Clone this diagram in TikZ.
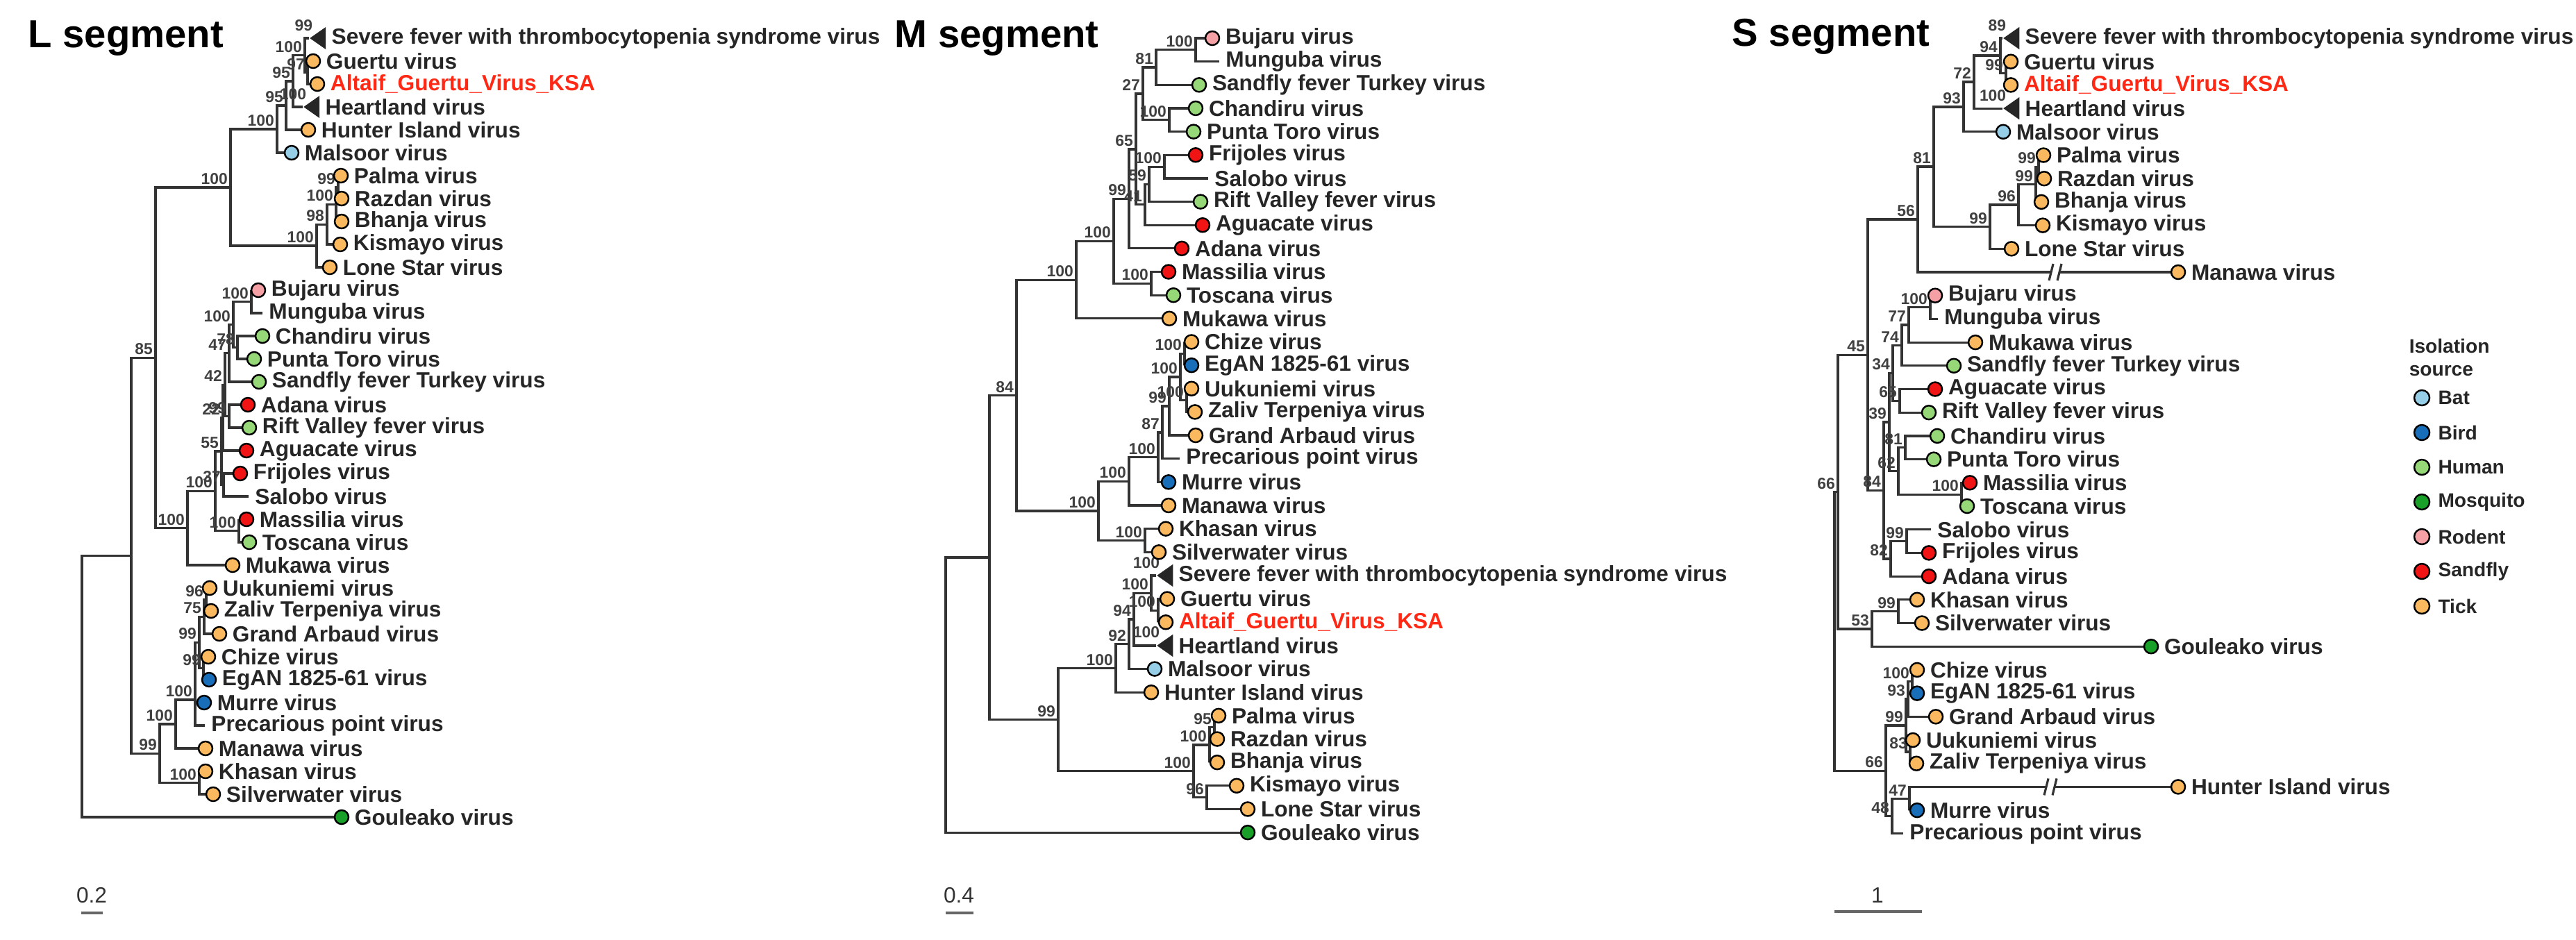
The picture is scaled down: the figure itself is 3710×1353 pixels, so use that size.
\documentclass[tikz,border=0pt]{standalone}
\usepackage{fontspec}
\setmainfont{Liberation Sans}
\usetikzlibrary{shapes.geometric,backgrounds}

\definecolor{batc}{RGB}{150,206,232}
\definecolor{birdc}{RGB}{25,110,185}
\definecolor{humanc}{RGB}{150,215,120}
\definecolor{mosqc}{RGB}{25,160,40}
\definecolor{rodentc}{RGB}{245,160,165}
\definecolor{sandflyc}{RGB}{240,20,20}
\definecolor{tickc}{RGB}{250,185,95}
\definecolor{ksac}{RGB}{255,40,20}

\tikzset{
  mk/.style={circle, draw=black, line width=0.7pt, minimum size=0.2cm, inner sep=0pt},
  Bat/.style={mk, fill=batc},
  Bird/.style={mk, fill=birdc},
  Human/.style={mk, fill=humanc},
  Mosquito/.style={mk, fill=mosqc},
  Rodent/.style={mk, fill=rodentc},
  Sandfly/.style={mk, fill=sandflyc},
  Tick/.style={mk, fill=tickc},
  Bare/.style={inner sep=0pt, minimum size=0pt, label distance=3.5pt},
  Tri/.style={isosceles triangle, shape border rotate=180, isosceles triangle apex angle=70,
    minimum size=0.23cm, inner sep=0pt, fill=black!85, anchor=apex},
  lab/.style={font=\fontsize{9}{10}\selectfont\bfseries, text=black!85, inner sep=2pt},
  ksa/.style={lab, text=ksac},
  bs/.style={font=\fontsize{6.5}{7}\selectfont\bfseries, text=black!75, inner sep=1pt},
  branch/.style={draw=black!80, line width=0.9pt},
  title/.style={font=\fontsize{16}{18}\selectfont\bfseries, anchor=base west, inner sep=0pt},
  sc/.style={font=\fontsize{9}{10}\selectfont, text=black!80, inner sep=0pt},
  scalebar/.style={draw=black!60, line width=1.2pt},
  leg/.style={font=\fontsize{8}{9.5}\selectfont\bfseries, text=black!85, inner sep=3pt},
}

% broken branch mark
\newcommand\gapmark[2]{%
  \fill[white] (#1-5,#2-7) rectangle (#1+5,#2+7);
  \draw[branch] (#1-9,#2+12) -- (#1-3,#2-12) (#1+3,#2+12) -- (#1+9,#2-12);}

\begin{document}
\begin{tikzpicture}[x=0.01cm, y=-0.01cm]
\useasboundingbox (0,0) rectangle (3710,1353);

%%%%%%%%%%%%%%%% L segment
\node[title] (Ltitle) at (40,68) {L segment};

% inner nodes
\foreach \n/\cx/\cy/\bv in {LN7/443/104.5/97, LN6/439/79.8/100, LN5/422/116.9/95,
  LN4/412/152/95, LN2/399/186/100, LP4/487/269.5/99, LP3/484/294.3/100,
  LP2/471/323.1/98, LP1/456/354/100, LN1/332/270/100, LBM/362/434.5/100,
  LCP/342/500.5/78, LQ1/336/467.5/100, LQ2/330/508.8/47, LAR/330/599.5/99,
  LQ3/324/554.1/42, LQ4/321/601.6/22, LFS/322/698.5/37, LF/319/650/55,
  LG/344/764.5/100, LE/310/707.3/100, LD/270/760.6/100, LB/224/515.3/85,
  LUZ/297/863.5/96, LUZG/294/888.3/75, LCE/293/962.5/99, LH2/287/925.4/99,
  LF2/281/1008/100, LD2/253/1043/100, LKS/287/1127.5/100, LC/230/1085.3/99}
  \coordinate[label={[bs]above left:\bv}] (\n) at (\cx,\cy);
\coordinate (LA) at (189,800.3);
\coordinate (Lroot) at (118,988.6);

% tips
\node[Tri, label={[lab]right:Severe fever with thrombocytopenia syndrome virus}, label={[bs]above left:99}] (L0) at (445,55) {};
\node[Tri, label={[lab]right:Heartland virus}, label={[bs]above left:100}] (L3) at (436,154) {};
\foreach \i/\cx/\st/\nm/\lb in {1/451/Tick/Guertu virus/lab, 2/457/Tick/Altaif\_Guertu\_Virus\_KSA/ksa,
  4/444/Tick/Hunter Island virus/lab, 5/420/Bat/Malsoor virus/lab, 6/491/Tick/Palma virus/lab,
  7/492/Tick/Razdan virus/lab, 8/492/Tick/Bhanja virus/lab, 9/490/Tick/Kismayo virus/lab,
  10/475/Tick/Lone Star virus/lab, 11/372/Rodent/Bujaru virus/lab, 12/379/Bare/Munguba virus/lab,
  13/378/Human/Chandiru virus/lab, 14/366/Human/Punta Toro virus/lab,
  15/373/Human/Sandfly fever Turkey virus/lab, 16/357/Sandfly/Adana virus/lab,
  17/359/Human/Rift Valley fever virus/lab, 18/355/Sandfly/Aguacate virus/lab,
  19/346/Sandfly/Frijoles virus/lab, 20/359/Bare/Salobo virus/lab, 21/355/Sandfly/Massilia virus/lab,
  22/359/Human/Toscana virus/lab, 23/335/Tick/Mukawa virus/lab, 24/302/Tick/Uukuniemi virus/lab,
  25/304/Tick/Zaliv Terpeniya virus/lab, 26/316/Tick/Grand Arbaud virus/lab, 27/300/Tick/Chize virus/lab,
  28/301/Bird/EgAN 1825-61 virus/lab, 29/294/Bird/Murre virus/lab, 30/296/Bare/Precarious point virus/lab,
  31/296/Tick/Manawa virus/lab, 32/296/Tick/Khasan virus/lab, 33/307/Tick/Silverwater virus/lab,
  34/492/Mosquito/Gouleako virus/lab}
  \node[\st, label={[\lb]right:\nm}] (L\i) at (\cx,{55+33*\i}) {};

\begin{pgfonlayer}{background}
\foreach \p/\ks in {LN7/{L1,L2}, LN6/{L0,LN7}, LN5/{LN6,L3}, LN4/{LN5,L4}, LN2/{LN4,L5},
  LP4/{L6,L7}, LP3/{LP4,L8}, LP2/{LP3,L9}, LP1/{LP2,L10}, LN1/{LN2,LP1},
  LBM/{L11,L12}, LCP/{L13,L14}, LQ1/{LBM,LCP}, LQ2/{LQ1,L15}, LAR/{L16,L17},
  LQ3/{LQ2,LAR}, LQ4/{LQ3,L18}, LFS/{L19,L20}, LF/{LQ4,LFS}, LG/{L21,L22},
  LE/{LF,LG}, LD/{LE,L23}, LB/{LN1,LD}, LUZ/{L24,L25}, LUZG/{LUZ,L26},
  LCE/{L27,L28}, LH2/{LUZG,LCE}, LF2/{LH2,L29,L30}, LD2/{LF2,L31}, LKS/{L32,L33},
  LC/{LD2,LKS}, LA/{LB,LC}, Lroot/{LA,L34}}
  \foreach \c in \ks \draw[branch] (\p) |- (\c);
\end{pgfonlayer}

\node[sc] (Lscale) at (132,1290) {0.2};
\coordinate (Lbar1) at (117,1315);
\coordinate (Lbar2) at (148,1315);
\draw[scalebar] (Lbar1) -- (Lbar2);

%%%%%%%%%%%%%%%% M segment
\node[title] (Mtitle) at (1288,68) {M segment};

\foreach \n/\cx/\cy/\bv in {MBM/1722/71.8/100, MBMS/1665/97/81, MCP/1684/172.8/100,
  MBMSC/1646/134.9/27, MFS/1677/240.1/100, MFSR/1655/265.3/59, MFSRA/1649/294.8/41,
  MH/1636/214.9/65, MG/1626/286.4/99, MS/1658/408.3/100, MF/1604/347.4/100,
  MD/1550/403.1/100, MQ/1706/509.3/100, MUZ/1709/576.6/100, MP/1700/543/100,
  MO/1684/585/99, MN/1674/622.9/87, MJ/1668/658.6/100, MI/1626/693.3/100,
  MK/1649/778.5/100, ME/1582/735.9/100, MB/1464/569.5/84, MGA/1668/879.4/100,
  MZ/1658/854.2/100, MY/1633/892/94, MX/1626/927.8/92, MR/1607/962.5/100,
  MW/1749/1047.7/95, MU/1742/1072.9/100, MV/1738/1148.6/96, MT/1719/1110.8/100,
  MC/1524/1036.6/99}
  \coordinate[label={[bs]above left:\bv}] (\n) at (\cx,\cy);
\coordinate (MA) at (1425,803);
\coordinate (Mroot) at (1362,1001);

\node[Tri, label={[lab]right:Severe fever with thrombocytopenia syndrome virus}, label={[bs]above left:100}] (M23) at (1665,828.95) {};
\node[Tri, label={[lab]right:Heartland virus}, label={[bs]above left:100}] (M26) at (1665,929.9) {};
\foreach \i/\cx/\st/\nm/\lb in {0/1746/Rodent/Bujaru virus/lab, 1/1757/Bare/Munguba virus/lab,
  2/1727/Human/Sandfly fever Turkey virus/lab, 3/1722/Human/Chandiru virus/lab,
  4/1719/Human/Punta Toro virus/lab, 5/1722/Sandfly/Frijoles virus/lab, 6/1741/Bare/Salobo virus/lab,
  7/1729/Human/Rift Valley fever virus/lab, 8/1732/Sandfly/Aguacate virus/lab,
  9/1702/Sandfly/Adana virus/lab, 10/1683/Sandfly/Massilia virus/lab, 11/1690/Human/Toscana virus/lab,
  12/1684/Tick/Mukawa virus/lab, 13/1716/Tick/Chize virus/lab, 14/1716/Bird/EgAN 1825-61 virus/lab,
  15/1716/Tick/Uukuniemi virus/lab, 16/1721/Tick/Zaliv Terpeniya virus/lab,
  17/1722/Tick/Grand Arbaud virus/lab, 18/1700/Bare/Precarious point virus/lab,
  19/1683/Bird/Murre virus/lab, 20/1683/Tick/Manawa virus/lab, 21/1679/Tick/Khasan virus/lab,
  22/1669/Tick/Silverwater virus/lab, 24/1681/Tick/Guertu virus/lab,
  25/1679/Tick/Altaif\_Guertu\_Virus\_KSA/ksa, 27/1663/Bat/Malsoor virus/lab,
  28/1658/Tick/Hunter Island virus/lab, 29/1755/Tick/Palma virus/lab, 30/1753/Tick/Razdan virus/lab,
  31/1753/Tick/Bhanja virus/lab, 32/1781/Tick/Kismayo virus/lab, 33/1797/Tick/Lone Star virus/lab,
  34/1797/Mosquito/Gouleako virus/lab}
  \node[\st, label={[\lb]right:\nm}] (M\i) at (\cx,{55+33.65*\i}) {};

\begin{pgfonlayer}{background}
\foreach \p/\ks in {MBM/{M0,M1}, MBMS/{MBM,M2}, MCP/{M3,M4}, MBMSC/{MBMS,MCP},
  MFS/{M5,M6}, MFSR/{MFS,M7}, MFSRA/{MFSR,M8}, MH/{MBMSC,MFSRA}, MG/{MH,M9},
  MS/{M10,M11}, MF/{MG,MS}, MD/{MF,M12}, MQ/{M13,M14}, MUZ/{M15,M16}, MP/{MQ,MUZ},
  MO/{MP,M17}, MN/{MO,M18}, MJ/{MN,M19}, MI/{MJ,M20}, MK/{M21,M22}, ME/{MI,MK},
  MB/{MD,ME}, MGA/{M24,M25}, MZ/{M23,MGA}, MY/{MZ,M26}, MX/{MY,M27}, MR/{MX,M28},
  MW/{M29,M30}, MU/{MW,M31}, MV/{M32,M33}, MT/{MU,MV}, MC/{MR,MT}, MA/{MB,MC},
  Mroot/{MA,M34}}
  \foreach \c in \ks \draw[branch] (\p) |- (\c);
\end{pgfonlayer}

\node[sc] (Mscale) at (1381,1290) {0.4};
\coordinate (Mbar1) at (1362,1315);
\coordinate (Mbar2) at (1402,1315);
\draw[scalebar] (Mbar1) -- (Mbar2);

%%%%%%%%%%%%%%%% S segment
\node[title] (Stitle) at (2494,66) {S segment};

\foreach \n/\cx/\cy/\bv in {SGA/2889/105.5/99, SL/2881/80/94, SK/2843/118/72, SI/2828/154/93,
  SO/2936/240.4/99, SN/2932/265.6/99, SM/2907/295/96, SJ/2866/326.7/99, SH/2785/240/81,
  SF/2762/316/56, SBM/2780/442.5/100, SBMM/2749/468/77, SBMMS/2739/497.4/74,
  SAR/2736/577.4/65, SX1/2726/537.4/34, SCP/2744/644.8/81, SMT/2825/712.2/100,
  SX3/2734/678.5/62, SX2/2721/608/39, SFA/2746/779.6/99, SX4/2723/804.9/82,
  SG/2713/706.4/84, SD/2690/511.2/45, SKS/2734/880.7/99, SE/2696/906/53,
  SB/2647/708.6/66, SCE/2754/981.8/100, SS/2748/1007/93, SUZ/2751/1082.9/83,
  SP/2745/1045/99, SR/2750/1150.3/47, SQ/2725/1175.5/48, SC/2716/1110.3/66}
  \coordinate[label={[bs]above left:\bv}] (\n) at (\cx,\cy);
\coordinate (Sroot) at (2642,909.4);

\node[Tri, label={[lab]right:Severe fever with thrombocytopenia syndrome virus}, label={[bs]above left:89}] (S0) at (2884,55) {};
\node[Tri, label={[lab]right:Heartland virus}, label={[bs]above left:100}] (S3) at (2884,156.1) {};
\foreach \i/\cx/\st/\nm/\lb in {1/2896/Tick/Guertu virus/lab, 2/2896/Tick/Altaif\_Guertu\_Virus\_KSA/ksa,
  4/2885/Bat/Malsoor virus/lab, 5/2943/Tick/Palma virus/lab, 6/2944/Tick/Razdan virus/lab,
  7/2940/Tick/Bhanja virus/lab, 8/2942/Tick/Kismayo virus/lab, 9/2897/Tick/Lone Star virus/lab,
  10/3137/Tick/Manawa virus/lab, 11/2787/Rodent/Bujaru virus/lab, 12/2792/Bare/Munguba virus/lab,
  13/2845/Tick/Mukawa virus/lab, 14/2814/Human/Sandfly fever Turkey virus/lab,
  15/2787/Sandfly/Aguacate virus/lab, 16/2778/Human/Rift Valley fever virus/lab,
  17/2790/Human/Chandiru virus/lab, 18/2785/Human/Punta Toro virus/lab,
  19/2837/Sandfly/Massilia virus/lab, 20/2833/Human/Toscana virus/lab, 21/2782/Bare/Salobo virus/lab,
  22/2778/Sandfly/Frijoles virus/lab, 23/2778/Sandfly/Adana virus/lab, 24/2761/Tick/Khasan virus/lab,
  25/2768/Tick/Silverwater virus/lab, 26/3098/Mosquito/Gouleako virus/lab, 27/2761/Tick/Chize virus/lab,
  28/2761/Bird/EgAN 1825-61 virus/lab, 29/2788/Tick/Grand Arbaud virus/lab,
  30/2755/Tick/Uukuniemi virus/lab, 31/2760/Tick/Zaliv Terpeniya virus/lab,
  32/3137/Tick/Hunter Island virus/lab, 33/2761/Bird/Murre virus/lab,
  34/2742/Bare/Precarious point virus/lab}
  \node[\st, label={[\lb]right:\nm}] (S\i) at (\cx,{55+33.7*\i}) {};

\begin{pgfonlayer}{background}
\foreach \p/\ks in {SGA/{S1,S2}, SL/{S0,SGA}, SK/{SL,S3}, SI/{SK,S4}, SO/{S5,S6},
  SN/{SO,S7}, SM/{SN,S8}, SJ/{SM,S9}, SH/{SI,SJ}, SF/{SH,S10}, SBM/{S11,S12},
  SBMM/{SBM,S13}, SBMMS/{SBMM,S14}, SAR/{S15,S16}, SX1/{SBMMS,SAR}, SCP/{S17,S18},
  SMT/{S19,S20}, SX3/{SCP,SMT}, SX2/{SX1,SX3}, SFA/{S21,S22}, SX4/{SFA,S23},
  SG/{SX2,SX4}, SD/{SF,SG}, SKS/{S24,S25}, SE/{SKS,S26}, SB/{SD,SE}, SCE/{S27,S28},
  SS/{SCE,S29}, SUZ/{S30,S31}, SP/{SS,SUZ}, SR/{S32,S33}, SQ/{SR,S34}, SC/{SP,SQ},
  Sroot/{SB,SC}}
  \foreach \c in \ks \draw[branch] (\p) |- (\c);
\end{pgfonlayer}
\gapmark{2960}{392}
\gapmark{2953}{1133.4}

\node[sc] (Sscale) at (2704,1290) {1};
\coordinate (Sbar1) at (2642,1313);
\coordinate (Sbar2) at (2768,1313);
\draw[scalebar] (Sbar1) -- (Sbar2);

%%%%%%%%%%%%%%%% legend
\node[leg, anchor=west, align=left, inner sep=0pt] (ltitle) at (3469,515) {Isolation\\source};
\foreach \st [count=\k] in {Bat,Bird,Human,Mosquito,Rodent,Sandfly,Tick}
  \node[\st, minimum size=0.22cm, label={[leg]right:\st}] (key\k) at (3488,{523+50*\k}) {};

\end{tikzpicture}
\end{document}
